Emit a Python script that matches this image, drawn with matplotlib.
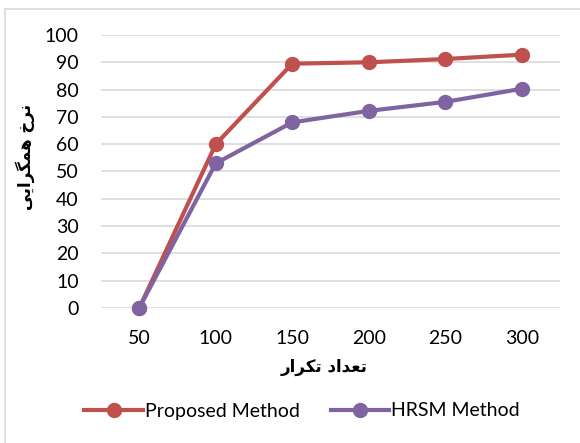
import matplotlib.pyplot as plt
from matplotlib.lines import Line2D
from matplotlib.patches import Rectangle

# داده‌های نمودار
iterations = [50, 100, 150, 200, 250, 300]
proposed = [0, 60, 89.5, 90, 91.2, 92.8]
hrsm = [0, 53, 68, 72.2, 75.5, 80.3]
y_ticks = list(range(0, 101, 10))

# برچسب‌های فارسی با حروف شکل‌دار (از چپ به راست)
x_label = "\uFEAD\uFE8D\uFEAE\uFB91\uFE97 \uFEA9\uFE8D\uFEAA\uFECC\uFE97"   # تعداد تکرار
y_label = "\uFBFD\uFBFE\uFE8D\uFEAE\uFB95\uFEE4\uFEEB \uFEA5\uFEAE\uFEE7"   # نرخ همگرایی

RED = '#C0504D'
PURPLE = '#8064A2'

plt.rcParams['font.family'] = ['Lato', 'DejaVu Sans']

fig = plt.figure(figsize=(5.8, 4.43), dpi=100)
ax = fig.add_axes([101 / 580, 1 - 308 / 443, 459 / 580, 273 / 443])

pos = list(range(len(iterations)))
ax.plot(pos, proposed, color=RED, lw=3, marker='o', ms=10, label='Proposed Method', zorder=3)
ax.plot(pos, hrsm, color=PURPLE, lw=3, marker='o', ms=10, label='HRSM Method', zorder=3)

ax.set_xlim(-0.5, len(iterations) - 0.5)
ax.set_ylim(0, 100)
ax.set_xticks(pos)
ax.set_xticklabels([str(v) for v in iterations])
ax.set_yticks(y_ticks)
ax.tick_params(length=0, labelsize=14, colors='black')
ax.tick_params(axis='y', pad=16)
ax.tick_params(axis='x', pad=16)
ax.grid(axis='y', color='#D9D9D9', lw=1.2)
ax.set_axisbelow(True)
for s in ax.spines.values():
    s.set_visible(False)
for ln in ax.lines:
    ln.set_clip_on(False)

fig.text(324 / 580, 1 - 367 / 443, x_label, family='DejaVu Sans', weight='bold',
         fontsize=12, ha='center', va='center')
fig.text(25 / 580, 1 - 157 / 443, y_label, family='DejaVu Sans', weight='bold',
         fontsize=12, ha='center', va='center', rotation=90)

handles = [Line2D([], [], color=RED, lw=3, marker='o', ms=10),
           Line2D([], [], color=PURPLE, lw=3, marker='o', ms=10)]
fig.legend(handles, ['Proposed Method', 'HRSM Method'], loc='center',
           bbox_to_anchor=(302 / 580, 1 - 411 / 443), ncol=2, frameon=False,
           fontsize=14, handlelength=3.0, handletextpad=0.1, columnspacing=1.6)

# قاب بیرونی نمودار
fig.patches.append(Rectangle((5 / 580, -0.1), 1.2, 1 - 9 / 443 + 0.1,
                             transform=fig.transFigure, fill=False,
                             edgecolor='#D9D9D9', lw=1.2))

fig.savefig('out.png', dpi=100)
